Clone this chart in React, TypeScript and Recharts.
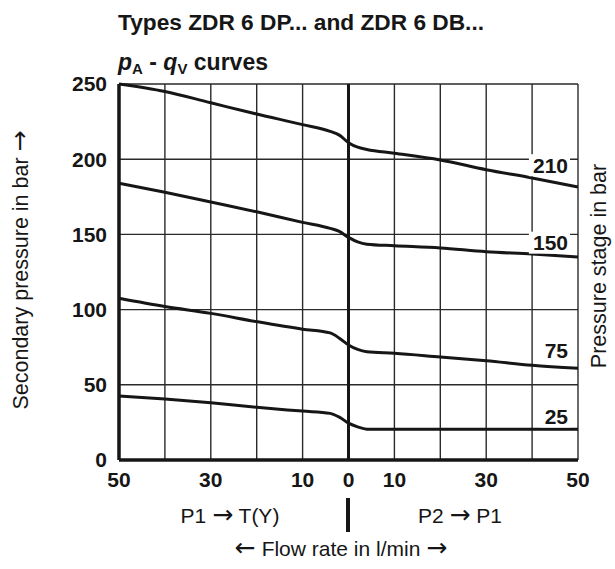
import React from "react";
import {
  LineChart,
  Line,
  XAxis,
  YAxis,
  CartesianGrid,
  ReferenceLine,
  ReferenceDot,
} from "recharts";

// flow rate in l/min: negative = P1 -> T(Y), positive = P2 -> P1
const flowRates = [-50, -40, -30, -20, -10, -4, -2, 0, 2, 4, 10, 20, 30, 40, 50];

// secondary pressure in bar for each pressure stage
const stage210 = [250, 245, 237.5, 230, 223, 218.5, 216, 211, 208, 206.5, 204, 199.5, 193, 187.5, 181.5];
const stage150 = [184, 178, 171.5, 165, 158, 154, 152, 148, 145, 143.5, 142.5, 141, 138.5, 137, 135];
const stage75 = [107.5, 102, 97.5, 92, 87, 84.5, 81, 76.5, 73.5, 72, 71, 68.5, 66, 63, 61];
const stage25 = [42.5, 40.5, 38, 35, 32.5, 31, 28.5, 24.5, 22, 20.5, 20.5, 20.5, 20.5, 20.5, 20.5];

const xTicks = [-50, -30, -10, 0, 10, 30, 50];
const yTicks = [0, 50, 100, 150, 200, 250];
const gridX = [-40, -30, -20, -10, 10, 20, 30, 40, 50];

const stageNames = ["210", "150", "75", "25"];
const stageLabelAt = [196, 144.5, 72.5, 29];

const data = flowRates.map((q, i) => ({
  q,
  s210: stage210[i],
  s150: stage150[i],
  s75: stage75[i],
  s25: stage25[i],
}));

const font = "'Liberation Sans', Arial, sans-serif";
const arrowFont = "'DejaVu Sans', sans-serif";
const ink = "#161616";

function StageTag({ cx, cy, text }: { cx?: number; cy?: number; text: string }) {
  if (cx == null || cy == null) return null;
  const w = text.length * 11.7 + 4;
  return (
    <g>
      <rect x={cx - 10 - w} y={cy - 11} width={w + 2} height={22} fill="#fff" />
      <text
        x={cx - 10}
        y={cy + 7.5}
        textAnchor="end"
        fontFamily={font}
        fontWeight="bold"
        fontSize={21}
        fill={ink}
      >
        {text}
      </text>
    </g>
  );
}

const Arrow = ({ ch }: { ch: string }) => (
  <tspan fontFamily={arrowFont} fontSize={25}>
    {ch}
  </tspan>
);

export default function App() {
  const series = ["s210", "s150", "s75", "s25"];
  return (
    <div
      style={{
        position: "absolute",
        left: 0,
        top: 0,
        width: 615,
        height: 569,
        background: "#fff",
      }}
    >
      <LineChart
        width={615}
        height={569}
        data={data}
        margin={{ top: 84, right: 37, bottom: 79, left: 79 }}
      >
        <CartesianGrid vertical={false} stroke="#2a2a2a" strokeWidth={1.4} />
        {gridX.map((g) => (
          <ReferenceLine key={g} x={g} stroke="#2a2a2a" strokeWidth={1.4} />
        ))}
        <ReferenceLine x={0} stroke={ink} strokeWidth={3} />
        <XAxis
          dataKey="q"
          type="number"
          domain={[-50, 50]}
          ticks={xTicks}
          tickFormatter={(v) => String(Math.abs(v))}
          height={30}
          tickSize={0}
          tickMargin={12}
          axisLine={{ stroke: ink, strokeWidth: 3.5 }}
          tick={{ fill: ink, fontSize: 21, fontWeight: "bold", fontFamily: font }}
        />
        <YAxis
          type="number"
          domain={[0, 250]}
          ticks={yTicks}
          width={40}
          tickSize={0}
          tickMargin={12}
          axisLine={{ stroke: ink, strokeWidth: 3.5 }}
          tick={{ fill: ink, fontSize: 21, fontWeight: "bold", fontFamily: font }}
        />
        {series.map((key) => (
          <Line
            key={key}
            dataKey={key}
            type="monotone"
            stroke={ink}
            strokeWidth={3}
            dot={false}
            isAnimationActive={false}
          />
        ))}
        {stageNames.map((name, i) => (
          <ReferenceDot
            key={name}
            x={50}
            y={stageLabelAt[i]}
            r={0}
            shape={(p: any) => <StageTag cx={p.cx} cy={p.cy} text={name} />}
          />
        ))}
      </LineChart>

      <svg
        width={615}
        height={569}
        style={{ position: "absolute", left: 0, top: 0, pointerEvents: "none" }}
      >
        <text x={118} y={30} fontFamily={font} fontWeight="bold" fontSize={22.7} fill={ink}>
          Types ZDR 6 DP... and ZDR 6 DB...
        </text>
        <text x={118} y={70} fontFamily={font} fontWeight="bold" fontSize={23} fill={ink}>
          <tspan fontStyle="italic">p</tspan>
          <tspan fontSize={15} dy={4}>A</tspan>
          <tspan dy={-4}> - </tspan>
          <tspan fontStyle="italic">q</tspan>
          <tspan fontSize={15} dy={4}>V</tspan>
          <tspan dy={-4}> curves</tspan>
        </text>
        <text
          transform="translate(28 270) rotate(-90)"
          textAnchor="middle"
          fontFamily={font}
          fontSize={21.5}
          fill={ink}
        >
          Secondary pressure in bar <Arrow ch="→" />
        </text>
        <text
          transform="translate(606 266) rotate(-90)"
          textAnchor="middle"
          fontFamily={font}
          fontSize={21.5}
          fill={ink}
        >
          Pressure stage in bar
        </text>
        <text x={230} y={523} textAnchor="middle" fontFamily={font} fontSize={21} fill={ink}>
          P1 <Arrow ch="→" /> T(Y)
        </text>
        <text x={460} y={523} textAnchor="middle" fontFamily={font} fontSize={21} fill={ink}>
          P2 <Arrow ch="→" /> P1
        </text>
        <line x1={348} y1={498} x2={348} y2={532} stroke={ink} strokeWidth={4} />
        <text x={341} y={556} textAnchor="middle" fontFamily={font} fontSize={21} fill={ink}>
          <Arrow ch="←" /> Flow rate in l/min <Arrow ch="→" />
        </text>
      </svg>
    </div>
  );
}
